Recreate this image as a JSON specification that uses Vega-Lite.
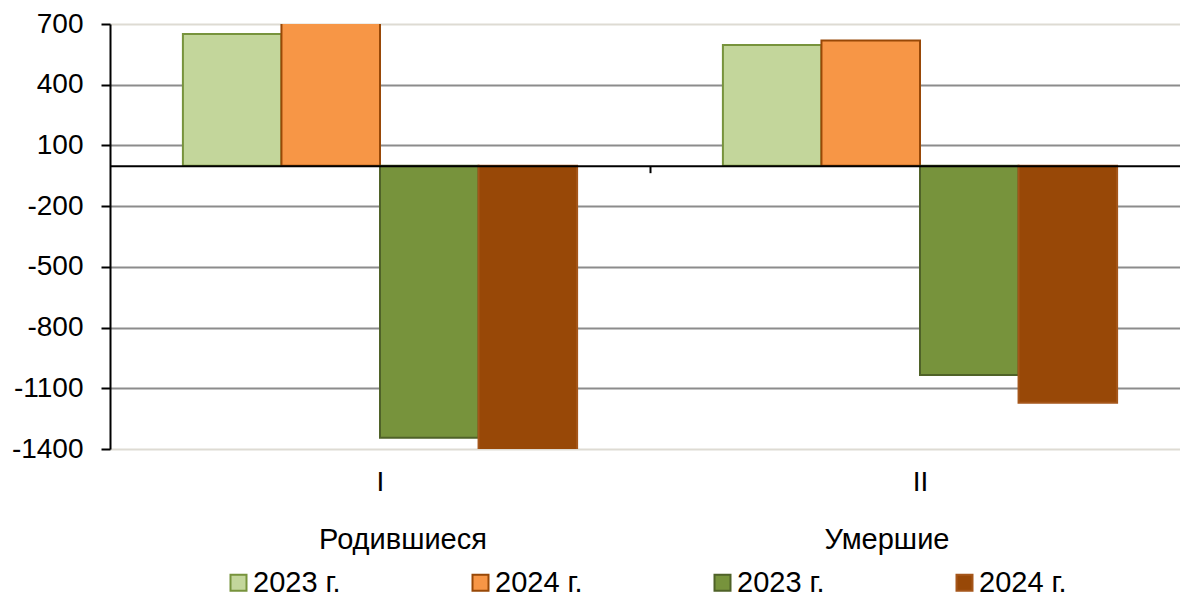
{
  "$schema": "https://vega.github.io/schema/vega-lite/v6.json",
  "width": 1070,
  "height": 425,
  "autosize": {"type": "none"},
  "padding": {"left": 110, "top": 24, "right": 0, "bottom": 149},
  "background": "white",
  "data": {
    "values": [
      {"cat": "I", "grp": "b", "series": "b2023", "year": "2023 г.", "value": 650},
      {"cat": "I", "grp": "b", "series": "b2024", "year": "2024 г.", "value": 720},
      {"cat": "I", "grp": "d", "series": "d2023", "year": "2023 г.", "value": -1345},
      {"cat": "I", "grp": "d", "series": "d2024", "year": "2024 г.", "value": -1410},
      {"cat": "II", "grp": "b", "series": "b2023", "year": "2023 г.", "value": 596},
      {"cat": "II", "grp": "b", "series": "b2024", "year": "2024 г.", "value": 618},
      {"cat": "II", "grp": "d", "series": "d2023", "year": "2023 г.", "value": -1034},
      {"cat": "II", "grp": "d", "series": "d2024", "year": "2024 г.", "value": -1171}
    ]
  },
  "encoding": {
    "x": {
      "field": "cat",
      "type": "nominal",
      "scale": {"range": [0, 1080], "paddingInner": 0.27, "paddingOuter": 0.135},
      "axis": {
        "orient": "bottom",
        "offset": -283.33,
        "title": null,
        "zindex": 1,
        "grid": false,
        "domainColor": "black",
        "domainWidth": 2,
        "tickColor": "black",
        "tickWidth": 2,
        "tickSize": 7,
        "tickOffset": 270,
        "labelOffset": -270,
        "labelAngle": 0,
        "labelFontSize": 28,
        "labelColor": "black",
        "labelPadding": 296
      }
    },
    "xOffset": {
      "field": "series",
      "type": "nominal",
      "scale": {"domain": ["b2023", "b2024", "d2023", "d2024"], "paddingInner": 0, "paddingOuter": 0}
    },
    "y": {
      "field": "value",
      "type": "quantitative",
      "scale": {"domain": [-1400, 700], "nice": false, "zero": false},
      "axis": {
        "title": null,
        "values": [-1400, -1100, -800, -500, -200, 100, 400, 700],
        "labelExpr": "datum.value + ''",
        "domainColor": "black",
        "domainWidth": 2,
        "tickColor": "black",
        "tickWidth": 2,
        "tickSize": 9,
        "labelFontSize": 28,
        "labelColor": "black",
        "labelPadding": 18,
        "grid": true,
        "gridWidth": 2,
        "gridColor": {
          "condition": {"test": "datum.value == 700 || datum.value == -1400", "value": "#dedbd3"},
          "value": "#8c8c8c"
        }
      }
    }
  },
  "layer": [
    {
      "transform": [{"filter": "datum.grp == 'b'"}],
      "mark": {"type": "bar", "clip": true, "strokeWidth": 2},
      "encoding": {
        "color": {
          "field": "year",
          "type": "nominal",
          "scale": {"domain": ["2023 г.", "2024 г."], "range": ["#c3d69b", "#f79646"]},
          "legend": {"title": "Родившиеся", "orient": "none", "legendX": 114, "legendY": 502, "direction": "horizontal"}
        },
        "stroke": {
          "field": "year",
          "type": "nominal",
          "scale": {"domain": ["2023 г.", "2024 г."], "range": ["#77933c", "#984807"]},
          "legend": {"title": "Родившиеся", "orient": "none", "legendX": 114, "legendY": 502, "direction": "horizontal"}
        }
      }
    },
    {
      "transform": [{"filter": "datum.grp == 'd'"}],
      "mark": {"type": "bar", "clip": true, "strokeWidth": 2},
      "encoding": {
        "color": {
          "field": "year",
          "type": "nominal",
          "scale": {"domain": ["2023 г.", "2024 г."], "range": ["#77933c", "#984807"]},
          "legend": {"title": "Умершие", "orient": "none", "legendX": 598, "legendY": 502, "direction": "horizontal"}
        },
        "stroke": {
          "field": "year",
          "type": "nominal",
          "scale": {"domain": ["2023 г.", "2024 г."], "range": ["#4f6228", "#a5561a"]},
          "legend": {"title": "Умершие", "orient": "none", "legendX": 598, "legendY": 502, "direction": "horizontal"}
        }
      }
    }
  ],
  "resolve": {
    "scale": {"color": "independent", "stroke": "independent"},
    "legend": {"color": "independent", "stroke": "independent"}
  },
  "config": {
    "font": "Liberation Sans",
    "view": {"stroke": null},
    "legend": {
      "titleFontSize": 29,
      "titleFontWeight": "normal",
      "titleColor": "black",
      "titleAnchor": "middle",
      "titlePadding": 13,
      "labelFontSize": 29,
      "labelColor": "black",
      "labelOffset": 0,
      "symbolType": "square",
      "symbolSize": 256,
      "symbolStrokeWidth": 2,
      "columnPadding": 125,
      "padding": 0
    }
  }
}
